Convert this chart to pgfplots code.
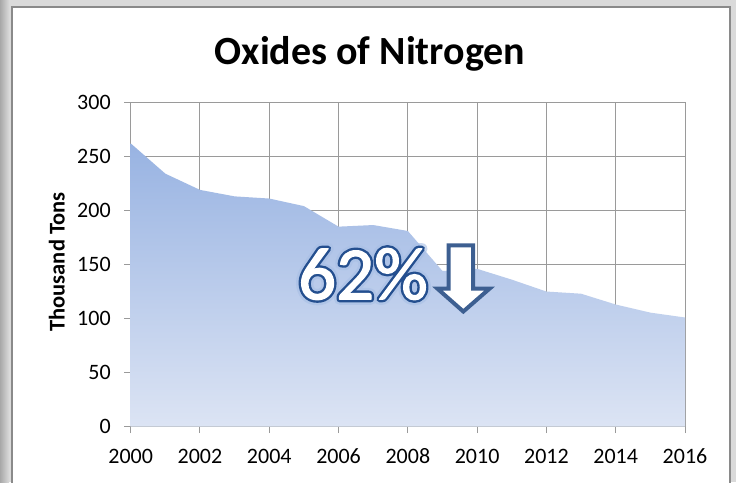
\documentclass[border=0pt]{standalone}
\usepackage{fontspec}
\setmainfont{Carlito}
\usepackage{pgfplots}
\pgfplotsset{compat=1.18}
\definecolor{gridgray}{HTML}{9A9A9A}
\definecolor{areatop}{HTML}{98B3E2}
\definecolor{areabot}{HTML}{DCE4F4}
\definecolor{outl}{HTML}{24508E}
\definecolor{glow}{HTML}{A9C0E6}
\definecolor{arrowc}{HTML}{3D5F91}
\definecolor{bggray}{HTML}{DADADA}
\definecolor{stripdark}{HTML}{A8A8A8}
\definecolor{panelborder}{HTML}{8A8A8A}
\newcommand\bigfont{\fontsize{75}{80}\selectfont}
\begin{document}
\begin{tikzpicture}[x=1pt,y=1pt]
\useasboundingbox (0,0) rectangle (736,-482);
\fill[bggray] (0,0) rectangle (736,-482);
\shade[left color=stripdark, right color=bggray] (0,0) rectangle (9,-482);
\filldraw[fill=white, draw=panelborder, line width=1.5] (11.8,-6.8) rectangle (730,-495);
\node[font=\fontsize{40}{46}\selectfont\bfseries, anchor=base, inner sep=0] at (370,-64.3) {Oxides of Nitrogen};
\begin{axis}[
  at={(130.7pt,-426.7pt)}, anchor=south west,
  scale only axis, width=554.3pt, height=324.4pt,
  xmin=2000, xmax=2016, ymin=0, ymax=300,
  xtick={2000,2002,...,2016}, ytick={0,50,...,300},
  grid=major, major grid style={draw=gridgray, line width=1pt},
  axis line style={draw=gridgray, line width=1pt},
  tick style={draw=gridgray, line width=1pt},
  tick align=outside, major tick length=6.5pt,
  tick pos=left,
  /pgf/number format/1000 sep={},
  /pgf/number format/assume math mode=true,
  ticklabel style={font=\fontsize{22}{26}\selectfont, text=black},
  xticklabel style={yshift=-12pt},
  yticklabel style={xshift=-10pt},
]
\addplot[draw=none, top color=areatop, bottom color=areabot] coordinates {
(2000,262) (2001,234) (2002,219) (2003,213) (2004,211) (2005,204)
(2006,185) (2007,186.5) (2008,181) (2009,144) (2010,146) (2011,136)
(2012,125) (2013,123) (2014,113) (2015,105.5) (2016,101)
} \closedcycle;
\end{axis}
\node[rotate=90, font=\fontsize{22.5}{26}\selectfont\bfseries] at (56.7,-262) {Thousand Tons};
\filldraw[fill=white, draw=arrowc, line width=4, line join=miter]
 (448.7,-245.3) -- (473,-245.3) -- (473,-288.7) -- (489.5,-288.7) -- (463.3,-311.5) -- (437.5,-288.7) -- (448.7,-288.7) -- cycle;
\node[text=glow, opacity=0.6, font=\bigfont] at (363,-274) {\special{pdf:literal direct 2 Tr 1 J 1 j 11 w 0.66 0.75 0.90 RG}62\%\special{pdf:literal direct 0 Tr}};
\node[text=white, font=\bigfont] at (363,-274) {\special{pdf:literal direct 2 Tr 1 j 6 w 0.14 0.31 0.56 RG}62\%\special{pdf:literal direct 0 Tr}};
\node[text=white, font=\bigfont] at (363,-274) {\special{pdf:literal direct 2 Tr 1 j 1.2 w 1 1 1 RG}62\%\special{pdf:literal direct 0 Tr}};
\end{tikzpicture}
\end{document}
